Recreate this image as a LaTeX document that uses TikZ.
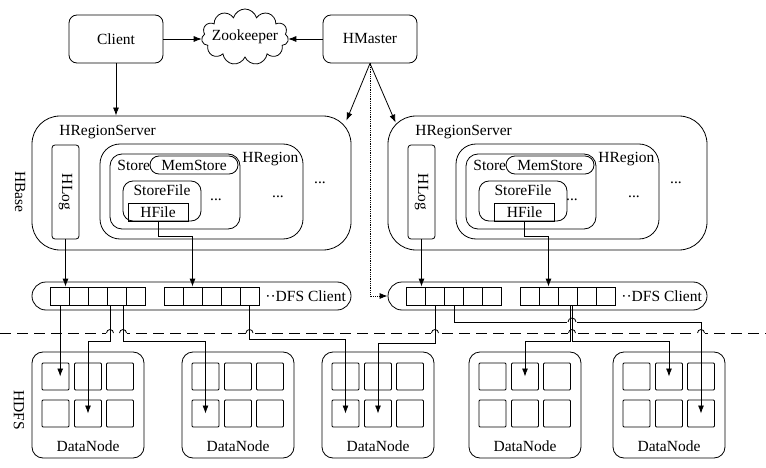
\documentclass[tikz,border=0pt]{standalone}
\usepackage{fontspec}
\setmainfont{Liberation Serif}
\usetikzlibrary{arrows.meta,shapes.symbols}

\tikzset{
  box/.style={draw, rounded corners=8pt, minimum width=94pt, minimum height=48pt},
  lbl/.style={inner sep=0pt, anchor=west},
  cell/.style={draw, inner sep=0pt, minimum width=19pt, minimum height=18pt},
  dcell/.style={draw, rounded corners=1pt, inner sep=0pt, minimum size=27pt},
  conn/.style={-{Latex[length=8pt,width=6pt]}},
  hop/.style={white, line width=2.5pt},
}

\begin{document}
\begin{tikzpicture}[x=1pt, y=-1pt, line width=0.8pt, font=\fontsize{15.5}{18}\selectfont]
  \useasboundingbox (0,0) rectangle (766,468);

  % arriba
  \node[box] (client) at (116,39) {Client};
  \node[cloud, draw, cloud puffs=11, cloud ignores aspect, minimum width=87pt, minimum height=56pt] (zk) at (245,37) {};
  \node (zktxt) at (zk.center) {Zookeeper};
  \node[box] (hmaster) at (370,39) {HMaster};
  \draw[conn] (client.east) -- (client.east -| zk.west);
  \draw[conn] (hmaster.west) -- (hmaster.west -| zk.east);

  % region servers
  \foreach \s/\dx/\fx/\fw/\hx in {a/0/162/78/158, b/356/167/88/168.5}{
    \begin{scope}[xshift=\dx pt]
      \node[draw, rounded corners=28pt, minimum width=319pt, minimum height=134pt] (srv\s) at (191.5,183) {};
      \node[lbl] (srvlbl\s) at (59,132) {HRegionServer};
      \node[draw, rounded corners=3pt, minimum width=27pt, minimum height=94pt] (hlog\s) at (65.5,192) {};
      \node[rotate=-90] (hlogtxt\s) at (hlog\s) {HLog};
      \node[draw, rounded corners=20pt, minimum width=203pt, minimum height=95pt] (hreg\s) at (201.5,191.5) {};
      \node[lbl] (hreglbl\s) at (242,159) {HRegion};
      \node[draw, rounded corners=12pt, minimum width=130pt, minimum height=75pt] (store\s) at (175,191.5) {};
      \node[lbl] (storelbl\s) at (117,165) {Store};
      \node[draw, rounded corners=9pt, inner sep=0pt, minimum width=88pt, minimum height=18pt] (mem\s) at (194,165) {MemStore};
      \node[draw, rounded corners=10pt, minimum width=\fw pt, minimum height=40pt] (sf\s) at (\fx,201) {};
      \node (sftxt\s) at (\fx,190) {StoreFile};
      \node[draw, inner sep=0pt, minimum width=60pt, minimum height=18pt] (hfile\s) at (\hx,212) {HFile};
      \node (dotsa\s) at (216,200) {...};
      \node (dotsb\s) at (278,197) {...};
      \node (dotsc\s) at (320,183) {...};

      % DFS client
      \node[draw, rounded corners=14pt, minimum width=319pt, minimum height=28pt] (dfs\s) at (191.5,296) {};
      \foreach \k in {1,...,5}{
        \node[cell] (\s g1c\k) at (41.2+19*\k,296) {};
        \node[cell] (\s g2c\k) at (154.5+19*\k,296) {};
      }
      \node[lbl] (dfslbl\s) at (265,296) {··DFS Client};
    \end{scope}
    \draw[conn] (hlog\s.south) -- (hlog\s.south |- \s g1c1.north);
    \draw[conn] (hfile\s.south) -- ++(0,15) -| (\s g2c2.north);
  }

  \draw[conn] (client.south) -- (client.south |- srva.north);
  \draw[conn] (hmaster.south) -- ([xshift=-5pt,yshift=-5pt]srva.north east);
  \draw[conn] (hmaster.south) -- ([xshift=8pt,yshift=-7pt]srvb.north west);
  \draw[conn, densely dotted] (hmaster.south) |- (dfsb.west);

  % HBase / HDFS
  \node[rotate=-90] (hbase) at (20,192) {HBase};
  \node[rotate=-90] (hdfs) at (19,410) {HDFS};
  \draw[dash pattern=on 11pt off 6pt] (0,333) -- (766,333);
  \foreach \h in {110,123,249.5,435,572,701}
    \draw[hop] (\h-4,333) -- (\h+4,333);

  % datanodes
  \foreach \n/\x in {1/32,2/182,3/322,4/469,5/613}{
    \node[draw, rounded corners=11pt, minimum width=112pt, minimum height=106pt] (dn\n) at (\x+56,405) {};
    \node (dntxt\n) at (\x+56,446) {DataNode};
    \foreach \rw/\y in {1/376.5,2/413.5}
      \foreach \cl/\cx in {1/23.5,2/56,3/88}
        \node[dcell] (dn\n r\rw c\cl) at (\x+\cx,\y) {};
  }

  % bloques
  \draw[conn] (ag1c1.south) -- (ag1c1.south |- dn1r1c1.center);
  \draw[conn] ([xshift=-7pt]ag1c4.south) -- ++(0,36) -| (dn1r2c2.center);
  \draw[conn] ([xshift=6pt]ag1c4.south) -- ++(0,36) -| (dn2r2c1.center);
  \draw[conn] (ag2c5.south) -- ++(0,34) -| (dn3r2c1.center);
  \draw[conn] (bg1c2.south) -- ++(0,38) -| (dn3r2c2.center);
  \draw[conn] (bg1c3.south) -- ++(0,17) -| (dn5r2c3.center);
  \draw[hop] (567,322) -- (577,322);
  \draw[conn] ([xshift=3pt]bg2c3.south) -- ++(0,36) -| (dn4r1c2.center);
  \draw[conn] ([xshift=5pt]bg2c3.south) -- ++(0,36) -| (dn5r1c2.center);

  % saltos
  \foreach \h in {110,123,249.5,435,572,701}
    \draw (\h-3.5,333) arc[start angle=180, end angle=360, radius=3.5];
  \draw (568,322) arc[start angle=180, end angle=360, radius=4];
\end{tikzpicture}
\end{document}
